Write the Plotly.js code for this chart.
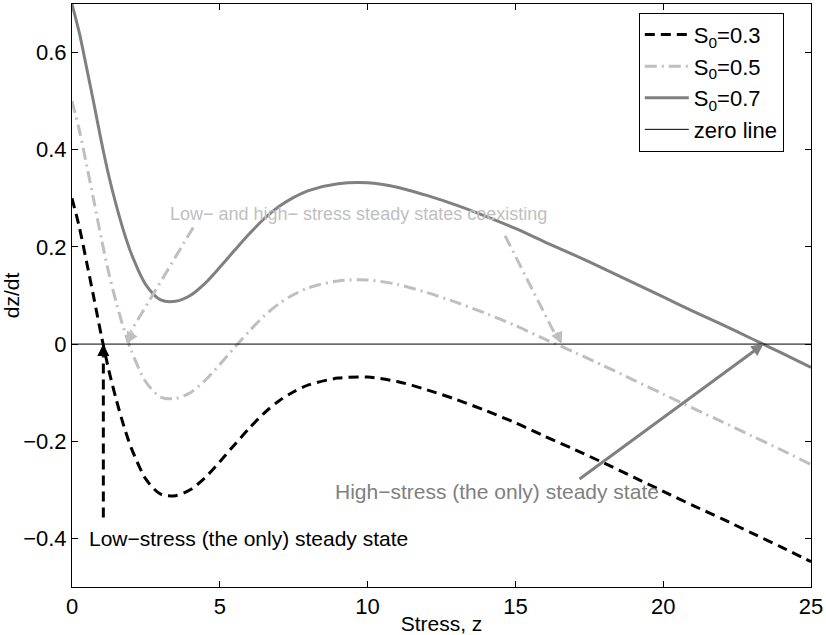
<!DOCTYPE html>
<html>
<head>
<meta charset="utf-8">
<script src="https://cdn.plot.ly/plotly-3.0.1.min.js"></script>
<style>html,body{margin:0;padding:0;background:#fff;}#chart{width:826px;height:635px;}</style>
</head>
<body>
<div id="chart"></div>
<script>
// Stress values (x)
const stress = [0, 0.25, 0.5, 0.75, 1.0, 1.25, 1.5, 1.75, 2.0, 2.5, 3.0, 3.5, 4.0, 4.5, 5.0, 5.5, 6.0, 6.5, 7.0, 7.5, 8.0, 9, 10, 11, 12, 13, 14, 15, 16, 17, 18, 19, 20, 21, 22, 23, 24, 25];
// dz/dt for S0 = 0.3, 0.5, 0.7
const dzdt_S03 = [0.300, 0.240, 0.167, 0.092, 0.015, -0.055, -0.115, -0.168, -0.213, -0.278, -0.309, -0.312, -0.300, -0.275, -0.242, -0.207, -0.173, -0.142, -0.117, -0.098, -0.084, -0.070, -0.068, -0.077, -0.094, -0.114, -0.137, -0.162, -0.190, -0.217, -0.245, -0.274, -0.303, -0.332, -0.360, -0.389, -0.418, -0.448];
const dzdt_S05 = [0.500, 0.440, 0.367, 0.292, 0.215, 0.145, 0.085, 0.032, -0.013, -0.078, -0.109, -0.112, -0.100, -0.075, -0.042, -0.007, 0.027, 0.058, 0.083, 0.102, 0.116, 0.130, 0.132, 0.123, 0.106, 0.086, 0.063, 0.038, 0.010, -0.017, -0.045, -0.074, -0.103, -0.132, -0.160, -0.189, -0.218, -0.248];
const dzdt_S07 = [0.700, 0.640, 0.567, 0.492, 0.415, 0.345, 0.285, 0.232, 0.187, 0.122, 0.091, 0.088, 0.100, 0.125, 0.158, 0.193, 0.227, 0.258, 0.283, 0.302, 0.316, 0.330, 0.332, 0.323, 0.306, 0.286, 0.263, 0.238, 0.210, 0.183, 0.155, 0.126, 0.097, 0.068, 0.040, 0.011, -0.018, -0.048];
const zeroX = [0, 25];
const zeroY = [0, 0];
const seriesNames = ["S<sub>0</sub>=0.3", "S<sub>0</sub>=0.5", "S<sub>0</sub>=0.7", "zero line"];
const xTicks = [0, 5, 10, 15, 20, 25];
const yTicks = [-0.4, -0.2, 0, 0.2, 0.4, 0.6];

const FONT = "Liberation Sans, Arial, Helvetica, sans-serif";
const LIGHT = "#bfbfbf", MID = "#808080";

const traces = [
  {x: stress, y: dzdt_S03, name: seriesNames[0], mode: "lines",
   line: {color: "#000000", width: 3, dash: "10px,6px", shape: "spline", smoothing: 0.8}},
  {x: stress, y: dzdt_S05, name: seriesNames[1], mode: "lines",
   line: {color: LIGHT, width: 3, dash: "12px,5px,2px,5px", shape: "spline", smoothing: 0.8}},
  {x: stress, y: dzdt_S07, name: seriesNames[2], mode: "lines",
   line: {color: MID, width: 3, shape: "spline", smoothing: 0.8}},
  {x: zeroX, y: zeroY, name: seriesNames[3], mode: "lines",
   line: {color: "#000000", width: 1}}
];

const layout = {
  width: 826, height: 635,
  margin: {l: 72, r: 15, t: 4, b: 48, pad: 0},
  paper_bgcolor: "#ffffff", plot_bgcolor: "#ffffff",
  font: {family: FONT, size: 21, color: "#000000"},
  showlegend: true,
  legend: {x: 0.767, y: 0.985, xanchor: "left", yanchor: "top",
    bgcolor: "#ffffff", bordercolor: "#000000", borderwidth: 1,
    font: {family: FONT, size: 22, color: "#000000"}, itemwidth: 44, tracegroupgap: 0},
  xaxis: {range: [0, 25], tickvals: xTicks, ticks: "inside", ticklen: 6, tickcolor: "#000",
    showline: true, linecolor: "#000", linewidth: 1, mirror: "allticks", showgrid: false, zeroline: false,
    tickfont: {family: FONT, size: 22},
    title: {text: "Stress, z", font: {family: FONT, size: 21}, standoff: 0}},
  yaxis: {range: [-0.5, 0.7], tickvals: yTicks, ticks: "inside", ticklen: 6, tickcolor: "#000",
    showline: true, linecolor: "#000", linewidth: 1, mirror: "allticks", showgrid: false, zeroline: false,
    tickfont: {family: FONT, size: 22},
    title: {text: "dz/dt", font: {family: FONT, size: 21}, standoff: 4}},
  shapes: [
    {type: "line", xref: "x", yref: "y", x0: 4.1, y0: 0.24, x1: 1.98, y1: 0.025,
     line: {color: LIGHT, width: 3, dash: "12px,5px,2px,5px"}},
    {type: "line", xref: "x", yref: "y", x0: 14.65, y0: 0.223, x1: 16.3, y1: 0.025,
     line: {color: LIGHT, width: 3, dash: "12px,5px,2px,5px"}},
    {type: "line", xref: "x", yref: "y", x0: 1.06, y0: -0.357, x1: 1.06, y1: -0.025,
     line: {color: "#000", width: 3, dash: "10px,6px"}}
  ],
  annotations: [
    {x: 3.25, y: 0.268, xref: "x", yref: "y", xanchor: "left", yanchor: "middle", showarrow: false,
     text: "Low\u2212 and high\u2212 stress steady states coexisting", font: {family: FONT, size: 18, color: LIGHT}},
    {x: 1.85, y: 0, xref: "x", yref: "y", text: "", showarrow: true, arrowhead: 2, arrowsize: 0.8,
     arrowwidth: 3, arrowcolor: LIGHT, ax: 7, ay: -13, standoff: 0},
    {x: 16.57, y: 0, xref: "x", yref: "y", text: "", showarrow: true, arrowhead: 2, arrowsize: 0.8,
     arrowwidth: 3, arrowcolor: LIGHT, ax: -6, ay: -13, standoff: 0},
    {x: 1.06, y: 0, xref: "x", yref: "y", text: "", showarrow: true, arrowhead: 2, arrowsize: 0.8,
     arrowwidth: 3, arrowcolor: "#000", ax: 0, ay: 14, standoff: 0},
    {x: 0.51, y: -0.4, xref: "x", yref: "y", xanchor: "left", yanchor: "middle", showarrow: false,
     text: "Low\u2212stress (the only) steady state", font: {family: FONT, size: 21, color: "#000"}},
    {x: 23.39, y: 0, xref: "x", yref: "y", ax: 17.12, ay: -0.28, axref: "x", ayref: "y",
     text: "", showarrow: true, arrowhead: 2, arrowsize: 0.8, arrowwidth: 3, arrowcolor: MID, standoff: 0},
    {x: 8.83, y: -0.304, xref: "x", yref: "y", xanchor: "left", yanchor: "middle", showarrow: false,
     text: "High\u2212stress (the only) steady state", font: {family: FONT, size: 21, color: MID}}
  ]
};

Plotly.newPlot("chart", traces, layout, {displayModeBar: false, staticPlot: true});
</script>
</body>
</html>
